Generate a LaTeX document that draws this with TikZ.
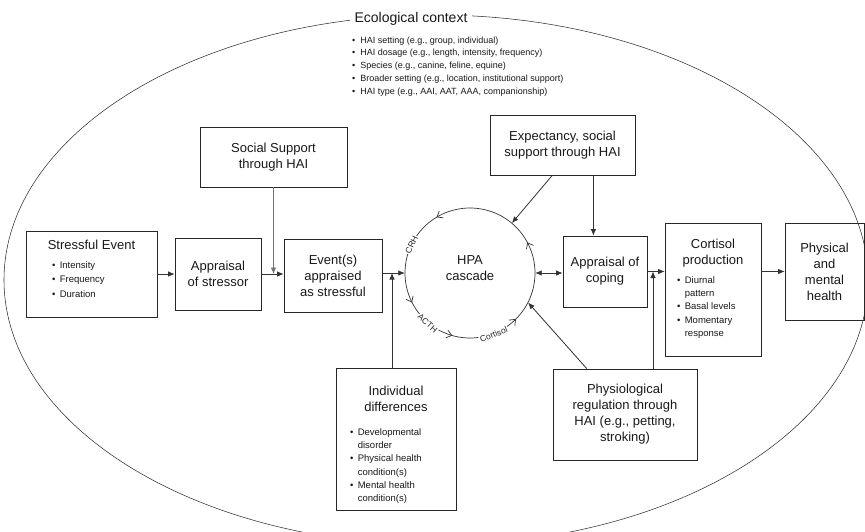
\documentclass[tikz,border=0pt]{standalone}
\usepackage{fontspec}
\setmainfont{Liberation Sans}
\usetikzlibrary{arrows.meta,decorations.markings,calc}
% width of list box, line spacing, rows
\newcommand{\blist}[3]{{\fontsize{9.5}{#2}\selectfont\makebox[#1][l]{\begin{tabular}[t]{@{}l@{\hspace{4.5pt}}l@{}}#3\end{tabular}}}}
\tikzset{barbtip/.tip={Straight Barb[length=5pt,width=8pt,line width=0.7pt]}}
\begin{document}
\begin{tikzpicture}[x=1pt,y=-1pt,
  box/.style={draw=black!85, line width=0.7pt, rectangle, inner sep=0pt,
    font=\fontsize{13}{16}\selectfont, align=center, text=black!90},
  txt/.style={inner sep=0pt, align=center, font=\fontsize{13}{16}\selectfont, text=black!90},
  con/.style={draw=black!80, line width=0.8pt, -{Latex[length=6.5pt,width=5.5pt]}},
  lightcon/.style={con, draw=black!55},
  clab/.style={fill=white, inner sep=0.8pt, font=\fontsize{8.5}{9}\selectfont, text=black!85}
]
\useasboundingbox (0,0) rectangle (865,531);
\fill[white] (0,0) rectangle (865,531);
\clip (0,0) rectangle (865,531);

% ecological context ellipse
\draw[black!80, line width=0.55pt] (436,280) ellipse [x radius=432, y radius=265];
\node[fill=white, inner xsep=5pt, inner ysep=2pt, anchor=base,
  font=\fontsize{14}{16}\selectfont, text=black!90] (eco) at (411,22) {Ecological context};
\node[inner sep=0pt, anchor=north west, align=left, text=black!90] (ecolist) at (352,34)
 {\fontsize{9}{12.75}\selectfont\begin{tabular}[t]{@{}l@{\hspace{5pt}}l@{}}
 •&HAI setting (e.g., group, individual)\\
 •&HAI dosage (e.g., length, intensity, frequency)\\
 •&Species (e.g., canine, feline, equine)\\
 •&Broader setting (e.g., location, institutional support)\\
 •&HAI type (e.g., AAI, AAT, AAA, companionship)
 \end{tabular}};

% boxes
\node[box, minimum width=131, minimum height=86] (se) at (91.5,274) {};
\node[txt, anchor=north] (set) at (91.5,240)
  {Stressful Event\\[2.5pt]\blist{79pt}{14.5}{•&Intensity\\•&Frequency\\•&Duration}};
\node[box, minimum width=86, minimum height=72] (app) at (218,274) {Appraisal\\of stressor};
\node[box, minimum width=147, minimum height=60] (ss) at (273.5,157) {Social Support\\through HAI};
\node[box, minimum width=98, minimum height=73] (ev) at (333,275.5) {Event(s)\\appraised\\as stressful};
\node[box, minimum width=145, minimum height=60] (exp) at (562.5,145) {Expectancy, social\\support through HAI};
\node[box, minimum width=84, minimum height=71] (cop) at (605,271.5) {Appraisal of\\coping};
\node[box, minimum width=96, minimum height=133] (cort) at (713,289.5) {};
\node[txt, anchor=north] (cortt) at (713,238.5)
  {Cortisol\\production\\[3pt]\blist{72pt}{13.3}{•&Diurnal\\&pattern\\•&Basal levels\\•&Momentary\\&response}};
\node[box, minimum width=79, minimum height=97] (pmh) at (824.5,271.5) {Physical\\and\\mental\\health};
\node[box, minimum width=120, minimum height=142] (ind) at (396,439) {};
\node[txt, anchor=north] (indt) at (396,385.6)
  {Individual\\differences\\[8pt]\blist{92pt}{13.3}{•&Developmental\\&disorder\\•&Physical health\\&condition(s)\\•&Mental health\\&condition(s)}};
\node[box, minimum width=144, minimum height=91] (phy) at (625,414.5)
  {Physiological\\regulation through\\HAI (e.g., petting,\\stroking)};

% HPA cascade circle
\node[circle, inner sep=0pt, minimum size=130] (hpa) at (470,273) {};
\node[txt] (hpat) at (470,268) {HPA\\cascade};
\draw[black!80, line width=0.7pt, postaction={decorate},
  decoration={markings,
    mark=at position 0.078 with {\arrow{barbtip}},
    mark=at position 0.336 with {\arrow{barbtip}},
    mark=at position 0.575 with {\arrow{barbtip}},
    mark=at position 0.706 with {\arrow{barbtip}},
    mark=at position 0.875 with {\arrow{barbtip}}}]
  (hpa.center) ++(0:65) arc[start angle=0, end angle=-360, radius=65];
\node[clab, rotate=64] (crh) at ($(hpa.center)+(-154:65)$) {CRH};
\node[clab, rotate=-42] (acth) at ($(hpa.center)+(-230:66)$) {ACTH};
\node[clab, rotate=22] (cortl) at ($(hpa.center)+(-291:66)$) {Cortisol};

% connectors
\coordinate (j1) at (392,273);
\coordinate (j3) at (653,271.5);
\draw[con] (se.east) -- (app.west);
\draw[con] (app.east) -- (app.east -| ev.west);
\draw[lightcon] (ss.south) -- (ss.south |- app.east);
\draw[con] (ev.east |- hpa.west) -- (hpa.west);
\draw[con, line width=1pt] (j1 |- ind.north) -- (j1);
\draw[con, {Latex[length=6.5pt,width=5.5pt]}-{Latex[length=6.5pt,width=5.5pt]}] (hpa.east) -- (hpa.east -| cop.west);
\draw[con] ($(exp.south west)!0.43!(exp.south east)$) -- (hpa.50);
\draw[con] ($(exp.south west)!0.712!(exp.south east)$) coordinate (e2) -- (e2 |- cop.north);
\draw[con] (cop.east) -- (cop.east -| cort.west);
\draw[con] (j3 |- phy.north) -- (j3);
\draw[con] ($(phy.north west)!0.236!(phy.north east)$) -- (hpa.-27);
\draw[con] (cort.east |- pmh.west) -- (pmh.west);
\end{tikzpicture}
\end{document}
